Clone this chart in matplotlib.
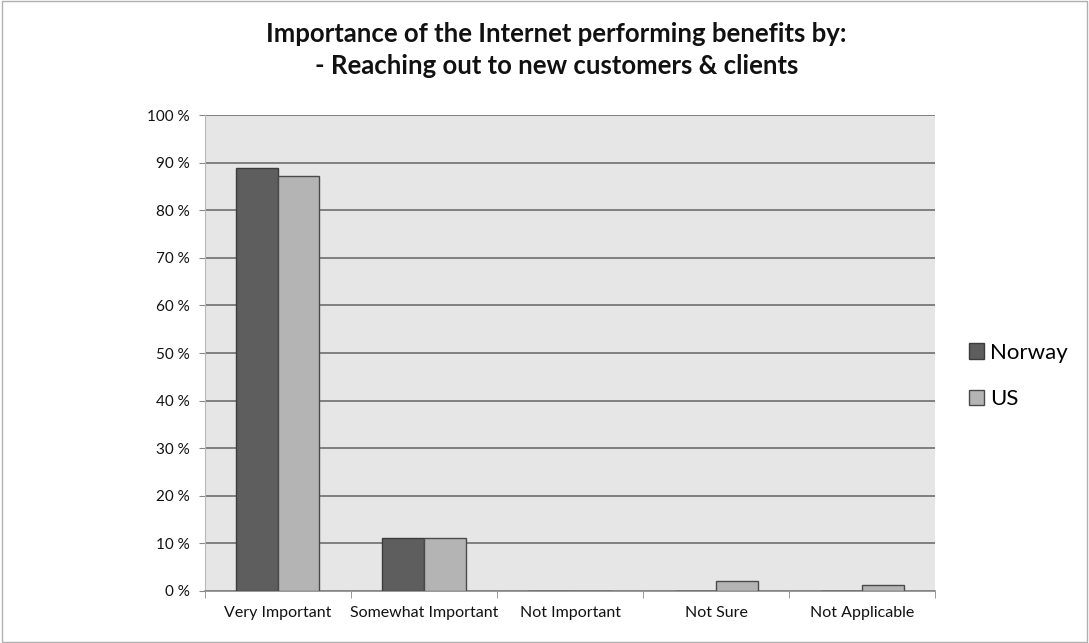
import numpy as np
import matplotlib
matplotlib.use('Agg')
from matplotlib import pyplot as plt
from matplotlib import ticker as mticker

categories = ['Very Important', 'Somewhat Important', 'Not Important', 'Not Sure', 'Not Applicable']
norway = [88.8, 11.2, 0.0, 0.0, 0.0]
us = [87.2, 11.2, 0.0, 2.1, 1.3]
yticks = list(range(0, 101, 10))

plt.rcParams['font.family'] = ['Lato', 'DejaVu Sans']

fig = plt.figure(figsize=(10.89, 6.43), dpi=100, facecolor='white')
ax = fig.add_axes([0.188, 0.081, 0.671, 0.740], facecolor='#e6e6e6')

x = np.arange(len(categories))
w = 0.285
ax.bar(x - w / 2, norway, w, color='#5e5e5e', edgecolor='#3c3c3c', linewidth=1, label='Norway', zorder=3)
ax.bar(x + w / 2, us, w, color='#b4b4b4', edgecolor='#4a4a4a', linewidth=1, label='US', zorder=3)

ax.set_xlim(-0.5, len(categories) - 0.5)
ax.set_ylim(0, 100)
ax.set_yticks(yticks)
ax.yaxis.set_major_formatter(mticker.FuncFormatter(lambda v, p: '%d %%' % v))
ax.yaxis.grid(True, color='#6e6e6e', linewidth=1.2, zorder=1)
ax.set_axisbelow(True)

ax.set_xticks(x)
ax.set_xticklabels(categories, fontsize=11.5)
ax.xaxis.set_minor_locator(mticker.FixedLocator(np.arange(-0.5, len(categories), 1.0)))
ax.tick_params(axis='x', which='major', length=0, pad=11, colors='#111111')
ax.tick_params(axis='x', which='minor', length=5, color='#888888', direction='out')
ax.tick_params(axis='y', length=4, color='#888888', labelsize=11, pad=7, labelcolor='#111111')

ax.spines['top'].set_visible(False)
ax.spines['right'].set_visible(False)
ax.spines['left'].set_color('#b8b8b8')
ax.spines['bottom'].set_color('#888888')
ax.spines['bottom'].set_linewidth(1.2)

fig.text(0.511, 0.922, 'Importance of the Internet performing benefits by:\n- Reaching out to new customers & clients',
         ha='center', va='center', fontsize=18.5, fontweight='bold', linespacing=1.4, color='#111111')

leg = ax.legend(loc='center left', bbox_to_anchor=(1.018, 0.452), frameon=False, fontsize=16,
                handlelength=0.7, handleheight=0.7, handletextpad=0.25, labelspacing=1.2)

# thin frame round the whole chart
fig.patches.append(plt.Rectangle((0.002, 0.002), 0.996, 0.996, transform=fig.transFigure,
                                 fill=False, edgecolor='#b0b0b0', linewidth=1))

fig.savefig('out.png', dpi=100, facecolor='white')
